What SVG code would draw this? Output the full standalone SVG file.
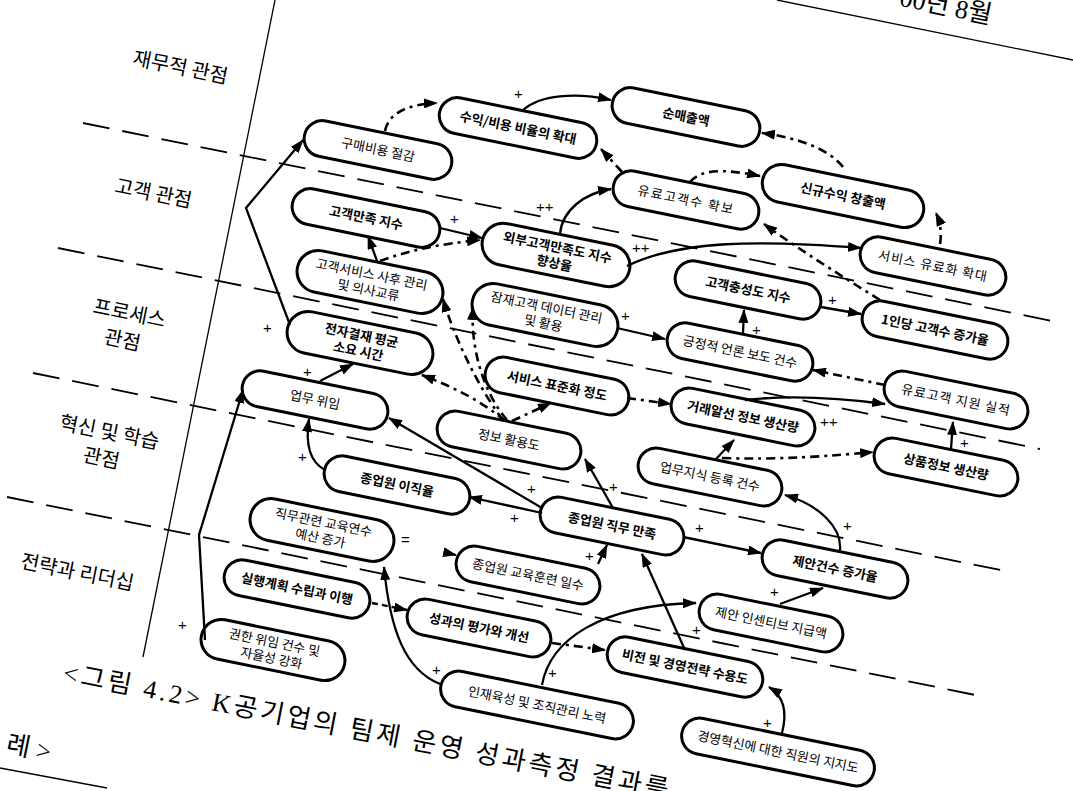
<svg xmlns="http://www.w3.org/2000/svg" width="1073" height="791" viewBox="0 0 1073 791">
<style>
.nd rect{fill:#fff;stroke:#000;stroke-width:3}
.t{font-family:"Noto Sans CJK KR","Noto Sans",sans-serif;font-size:13px;text-anchor:middle;fill:#000}
.b{font-weight:700}
.c{fill:none;stroke:#000;stroke-width:2.3}
.dd{stroke-dasharray:9,5,3,5;stroke-width:2.6}
.sd{stroke-dasharray:6,4}
.lbl{font-family:"Liberation Sans",sans-serif;font-size:15px;fill:#000}
.bd{fill:none;stroke:#000;stroke-width:1.8;stroke-dasharray:27,13}
.sec{font-family:"Noto Sans CJK KR",sans-serif;font-size:20px;fill:#000;text-anchor:middle}
.cap{font-family:"Liberation Serif","Noto Sans CJK KR",serif;font-size:26px;fill:#000}
</style>
<defs>
<marker id="ah" markerUnits="userSpaceOnUse" markerWidth="14" markerHeight="10" refX="13" refY="5" orient="auto">
<path d="M0,0 L14,5 L0,10 z" fill="#000"/>
</marker>
</defs>
<rect width="1073" height="791" fill="#fff"/>

<g id="frame">
<line x1="275" y1="0" x2="143" y2="657" stroke="#000" stroke-width="1.3"/>
<line x1="777" y1="0" x2="1073" y2="60" stroke="#000" stroke-width="1.3"/>
<line x1="0" y1="768" x2="107" y2="788" stroke="#000" stroke-width="1.3"/>
<path class="bd" d="M83,123 L1062,323"/>
<path class="bd" d="M58,248 L1040,449"/>
<path class="bd" d="M33,373 L1010,572"/>
<path class="bd" d="M7,497 L985,697"/>
</g>

<g id="sections">
<text class="sec" transform="translate(179,74) rotate(11.5)">재무적 관점</text>
<text class="sec" transform="translate(152,200) rotate(11.5)">고객 관점</text>
<text class="sec" transform="translate(128,320) rotate(11.5)">프로세스</text>
<text class="sec" transform="translate(121,347) rotate(11.5)">관점</text>
<text class="sec" transform="translate(108,439) rotate(11.5)">혁신 및 학습</text>
<text class="sec" transform="translate(100,465) rotate(11.5)">관점</text>
<text class="sec" transform="translate(76,579) rotate(11.5)">전략과 리더십</text>
</g>

<g id="captions">
<text class="cap" transform="translate(990,24) rotate(11.5)" text-anchor="end">00년 8월</text>
<text class="cap" transform="translate(62,681) rotate(11) " letter-spacing="3.2">&lt;그림 4.2&gt; K공기업의 팀제 운영 성과측정 결과를</text>
<text class="cap" transform="translate(5,752) rotate(11.5)" font-size="22">례 &gt;</text>
</g>

<g id="n1" class="nd" transform="translate(378,150) rotate(11.5)"><rect x="-75" y="-18" width="150" height="36" rx="18"/><text class="t" y="4.5">구매비용 절감</text></g>
<g id="n2" class="nd" transform="translate(518,128) rotate(11.5)"><rect x="-80" y="-18" width="160" height="36" rx="18"/><text class="t b" y="4.5">수익/비용 비율의 확대</text></g>
<g id="n3" class="nd" transform="translate(686,117) rotate(11.5)"><rect x="-75" y="-18" width="150" height="36" rx="18"/><text class="t b" y="4.5">순매출액</text></g>
<g id="n4" class="nd" transform="translate(686,200) rotate(11.5)"><rect x="-74" y="-18" width="148" height="36" rx="18"/><text class="t" y="4.5" letter-spacing="1.5">유료고객수 확보</text></g>
<g id="n5" class="nd" transform="translate(843,196) rotate(11.5)"><rect x="-82" y="-19" width="164" height="38" rx="19"/><text class="t b" y="4.5">신규수익 창출액</text></g>
<g id="n6" class="nd" transform="translate(366,218) rotate(11.5)"><rect x="-75" y="-18" width="150" height="36" rx="18"/><text class="t b" y="4.5">고객만족 지수</text></g>
<g id="n7" class="nd" transform="translate(556,255) rotate(11.5)"><rect x="-75" y="-21" width="150" height="42" rx="21"/><text class="t b" y="-3">외부고객만족도 지수</text><text class="t b" y="13">향상율</text></g>
<g id="n8" class="nd" transform="translate(933,266) rotate(11.5)"><rect x="-74" y="-18" width="148" height="36" rx="18"/><text class="t" y="4.5" letter-spacing="1">서비스 유료화 확대</text></g>
<g id="n9" class="nd" transform="translate(370,282) rotate(11.5)"><rect x="-74" y="-21" width="148" height="42" rx="21"/><text class="t" y="-3">고객서비스 사후 관리</text><text class="t" y="13">및 의사교류</text></g>
<g id="n10" class="nd" transform="translate(545,315) rotate(11.5)"><rect x="-74" y="-21" width="148" height="42" rx="21"/><text class="t" y="-3">잠재고객 데이터 관리</text><text class="t" y="13">및 활용</text></g>
<g id="n11" class="nd" transform="translate(748,290) rotate(11.5)"><rect x="-74" y="-18" width="148" height="36" rx="18"/><text class="t b" y="4.5">고객충성도 지수</text></g>
<g id="n12" class="nd" transform="translate(935,330) rotate(11.5)"><rect x="-74" y="-18" width="148" height="36" rx="18"/><text class="t b" y="4.5">1인당 고객수 증가율</text></g>
<g id="n13" class="nd" transform="translate(360,343) rotate(11.5)"><rect x="-74" y="-21" width="148" height="42" rx="21"/><text class="t b" y="-3">전자결재 평균</text><text class="t b" y="13">소요 시간</text></g>
<g id="n14" class="nd" transform="translate(740,352) rotate(11.5)"><rect x="-74" y="-18" width="148" height="36" rx="18"/><text class="t" y="4.5">긍정적 언론 보도 건수</text></g>
<g id="n15" class="nd" transform="translate(315,400) rotate(11.5)"><rect x="-74" y="-18" width="148" height="36" rx="18"/><text class="t" y="4.5">업무 위임</text></g>
<g id="n16" class="nd" transform="translate(557,386) rotate(11.5)"><rect x="-73" y="-18" width="146" height="36" rx="18"/><text class="t b" y="4.5">서비스 표준화 정도</text></g>
<g id="n17" class="nd" transform="translate(509,440) rotate(11.5)"><rect x="-73" y="-18" width="146" height="36" rx="18"/><text class="t" y="4.5">정보 활용도</text></g>
<g id="n18" class="nd" transform="translate(743,417) rotate(11.5)"><rect x="-73" y="-18" width="146" height="36" rx="18"/><text class="t b" y="4.5">거래알선 정보 생산량</text></g>
<g id="n19" class="nd" transform="translate(956,400) rotate(11.5)"><rect x="-73" y="-18" width="146" height="36" rx="18"/><text class="t" y="4.5" letter-spacing="1">유료고객 지원 실적</text></g>
<g id="n20" class="nd" transform="translate(946,467) rotate(11.5)"><rect x="-73" y="-18" width="146" height="36" rx="18"/><text class="t b" y="4.5">상품정보 생산량</text></g>
<g id="n21" class="nd" transform="translate(710,477) rotate(11.5)"><rect x="-73" y="-18" width="146" height="36" rx="18"/><text class="t" y="4.5">업무지식 등록 건수</text></g>
<g id="n22" class="nd" transform="translate(397,485) rotate(11.5)"><rect x="-74" y="-18" width="148" height="36" rx="18"/><text class="t b" y="4.5">종업원 이직율</text></g>
<g id="n23" class="nd" transform="translate(612,526) rotate(11.5)"><rect x="-73" y="-18" width="146" height="36" rx="18"/><text class="t b" y="4.5">종업원 직무 만족</text></g>
<g id="n24" class="nd" transform="translate(322,530) rotate(11.5)"><rect x="-73" y="-21" width="146" height="42" rx="21"/><text class="t" y="-3">직무관련 교육연수</text><text class="t" y="13">예산 증가</text></g>
<g id="n25" class="nd" transform="translate(528,575) rotate(11.5)"><rect x="-73" y="-18" width="146" height="36" rx="18"/><text class="t" y="4.5">종업원 교육훈련 일수</text></g>
<g id="n26" class="nd" transform="translate(835,569) rotate(11.5)"><rect x="-74" y="-18" width="148" height="36" rx="18"/><text class="t b" y="4.5">제안건수 증가율</text></g>
<g id="n27" class="nd" transform="translate(771,623) rotate(11.5)"><rect x="-73" y="-18" width="146" height="36" rx="18"/><text class="t" y="4.5">제안 인센티브 지급액</text></g>
<g id="n28" class="nd" transform="translate(297,589) rotate(11.5)"><rect x="-74" y="-18" width="148" height="36" rx="18"/><text class="t b" y="4.5">실행계획 수립과 이행</text></g>
<g id="n29" class="nd" transform="translate(479,628) rotate(11.5)"><rect x="-73" y="-18" width="146" height="36" rx="18"/><text class="t b" y="4.5">성과의 평가와 개선</text></g>
<g id="n30" class="nd" transform="translate(273,650) rotate(11.5)"><rect x="-73" y="-20" width="146" height="40" rx="20"/><text class="t" y="-3">권한 위임 건수 및</text><text class="t" y="13">자율성 강화</text></g>
<g id="n31" class="nd" transform="translate(537,705) rotate(11.5)"><rect x="-98" y="-18" width="196" height="36" rx="18"/><text class="t" y="4.5">인재육성 및 조직관리 노력</text></g>
<g id="n32" class="nd" transform="translate(685,667) rotate(11.5)"><rect x="-79" y="-18" width="158" height="36" rx="18"/><text class="t b" y="4.5">비전 및 경영전략 수용도</text></g>
<g id="n33" class="nd" transform="translate(778,752) rotate(11.5)"><rect x="-98" y="-18" width="196" height="36" rx="18"/><text class="t" y="4.5">경영혁신에 대한 직원의 지지도</text></g>

<g id="connectors" marker-end="url(#ah)">
<path class="c dd" d="M385,131 C388,115 405,104 437,103"/>
<path class="c" d="M523,110 C540,95 575,92 611,100"/>
<path class="c dd" d="M843,167 C830,150 800,138 762,133"/>
<path class="c dd" d="M622,172 L601,149"/>
<path class="c dd" d="M690,182 C700,170 720,168 760,176"/>
<path class="c dd" d="M940,244 C942,232 940,222 936,213"/>
<path class="c dd" d="M880,300 C840,275 800,250 764,224"/>
<path class="c" d="M560,234 C562,210 585,193 611,189"/>
<path class="c" d="M627,266 C680,240 760,240 861,248"/>
<path class="c" d="M440,228 L482,238"/>
<path class="c" d="M377,261 L368,236"/>
<path class="c dd" d="M380,261 C410,250 440,244 480,240"/>
<path class="c" d="M617,328 L665,339"/>
<path class="c" d="M743,333 L744,310"/>
<path class="c" d="M821,307 L861,314"/>
<path class="c dd" d="M885,385 L813,370"/>
<path class="c" d="M745,400 C790,395 840,398 885,404"/>
<path class="c" d="M951,449 L953,422"/>
<path class="c" d="M716,459 L734,440"/>
<path class="c dd" d="M722,458 C780,460 830,456 873,452"/>
<path class="c dd" d="M627,398 L671,404"/>
<path class="c dd" d="M512,421 L551,403"/>
<path class="c dd" d="M505,421 C480,400 455,388 422,375"/>
<path class="c dd" d="M503,420 C480,390 455,340 443,299"/>
<path class="c dd" d="M507,420 C485,395 470,350 473,307"/>
<path class="c" d="M320,381 L353,364"/>
<path class="c" d="M290,325 L246,208 L303,140"/>
<path class="c" d="M325,470 C310,462 305,445 309,419"/>
<path class="c" d="M205,640 L199,535 L243,390"/>
<path class="c" d="M542,508 L389,418"/>
<path class="c" d="M542,513 L469,497"/>
<path class="c" d="M613,508 L585,459"/>
<path class="c" d="M683,537 L761,553"/>
<path class="c" d="M780,604 L823,588"/>
<path class="c" d="M840,550 C842,528 820,505 785,495"/>
<path class="c" d="M598,564 L607,545"/>
<path class="c" d="M440,684 C405,670 390,630 384,567"/>
<path class="c" d="M542,685 C550,640 600,605 696,603"/>
<path class="c sd" d="M372,603 L407,610"/>
<path class="c dd" d="M552,643 L605,650"/>
<path class="c" d="M685,650 L642,554"/>
<path class="c" d="M782,733 C788,710 782,695 769,687"/>
<path class="c" d="M447,553 L456,555"/>
</g>

<g id="labels">
<text class="lbl" x="514" y="99">+</text>
<text class="lbl" x="536" y="212">++</text>
<text class="lbl" x="632" y="253">++</text>
<text class="lbl" x="450" y="224">+</text>
<text class="lbl" x="621" y="321">+</text>
<text class="lbl" x="752" y="335">+</text>
<text class="lbl" x="828" y="305">+</text>
<text class="lbl" x="820" y="427">++</text>
<text class="lbl" x="960" y="448">+</text>
<text class="lbl" x="303" y="377">+</text>
<text class="lbl" x="263" y="333">+</text>
<text class="lbl" x="298" y="462">+</text>
<text class="lbl" x="178" y="630">+</text>
<text class="lbl" x="527" y="494">+</text>
<text class="lbl" x="510" y="523">+</text>
<text class="lbl" x="609" y="492">+</text>
<text class="lbl" x="695" y="533">+</text>
<text class="lbl" x="770" y="597">+</text>
<text class="lbl" x="843" y="531">+</text>
<text class="lbl" x="585" y="561">+</text>
<text class="lbl" x="432" y="675">+</text>
<text class="lbl" x="548" y="678">+</text>
<text class="lbl" x="692" y="635">+</text>
<text class="lbl" x="763" y="728">+</text>
<text class="lbl" x="401" y="545">=</text>
</g>
</svg>
